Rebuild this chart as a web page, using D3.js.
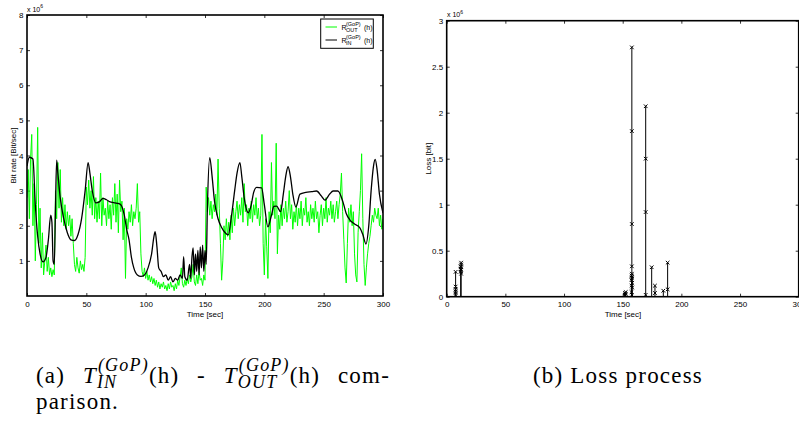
<!DOCTYPE html>
<html><head><meta charset="utf-8">
<script src="https://cdn.jsdelivr.net/npm/d3@7"></script>
<style>body{margin:0;background:#fff}svg{display:block}</style>
</head><body><svg id="c" width="799" height="421" font-family="Liberation Sans, Arial, sans-serif"></svg>
<script>
// ---- data (values in units of 1e6) ----
const xTicks = [0, 50, 100, 150, 200, 250, 300];
const rateTicks = [1, 2, 3, 4, 5, 6, 7, 8];
const lossTicks = [0, 0.5, 1, 1.5, 2, 2.5, 3];
const outRate = [
 2.8,3.6,2.2,3.9,4.6,2.0,3.2,1.0,2.6,4.8,
 1.5,2.5,0.8,1.8,0.6,1.0,1.45,0.7,1.1,0.6,
 0.8,0.55,0.75,0.6,3.0,2.2,3.8,2.5,3.6,2.1,
 2.8,2.0,2.6,1.9,2.4,2.0,2.3,1.7,2.2,1.5,
 0.9,0.7,1.1,0.8,0.65,1.0,0.75,0.9,0.7,1.1,
 3.1,2.6,3.3,2.5,3.0,2.3,3.4,2.2,2.8,2.1,
 2.7,2.2,3.5,2.0,2.8,2.3,2.5,2.0,2.7,2.2,
 2.6,1.9,2.8,2.3,3.2,2.1,2.9,1.8,3.3,2.4,
 2.7,1.6,2.5,0.5,2.2,1.9,2.4,2.1,2.6,2.0,
 2.4,2.2,2.5,3.2,2.1,2.4,1.2,0.7,0.55,0.8,
 0.5,0.7,0.45,0.6,0.4,0.55,0.35,0.5,0.3,0.45,
 0.25,0.4,0.2,0.35,0.25,0.4,0.2,0.3,0.15,0.35,
 0.2,0.4,0.25,0.3,0.15,0.35,0.2,0.45,0.3,0.55,
 0.8,0.35,0.25,0.45,0.3,0.5,0.35,0.6,0.4,0.55,
 0.9,0.4,0.3,0.6,0.35,0.7,0.45,0.5,0.3,0.6,
 0.45,
 3.1,2.4,2.8,2.3,2.7,2.2,2.6,2.4,2.9,2.3,
 3.9,2.5,1.5,0.45,1.0,2.0,1.6,2.2,1.7,2.1,
 1.6,2.3,1.8,2.5,2.0,2.4,2.7,2.2,2.6,2.3,
 2.8,2.1,3.2,2.4,2.6,2.0,2.5,2.2,2.7,2.1,
 2.6,2.3,2.8,2.2,2.5,2.0,2.3,4.6,1.5,0.6,
 2.2,1.4,0.5,2.4,1.8,3.8,2.3,2.7,2.2,4.35,
 1.2,2.3,1.9,2.6,2.0,2.5,2.2,2.7,2.1,2.4,
 3.0,2.2,2.6,1.9,2.4,2.1,2.6,2.0,2.5,2.2,
 2.7,2.0,2.5,2.3,2.8,2.1,2.4,2.0,2.6,2.2,
 2.5,2.1,2.7,2.2,2.4,1.8,2.3,2.6,2.0,2.5,
 2.2,2.8,2.1,2.5,2.3,2.7,2.2,2.6,2.1,2.4,
 2.7,2.2,2.6,2.9,3.5,2.4,1.6,0.8,0.37,1.5,
 2.5,2.1,2.6,2.0,2.4,1.2,0.6,0.4,1.8,2.4,
 3.0,4.05,2.2,0.9,0.3,0.8,1.2,1.5,1.7,2.0,
 2.3,2.1,2.5,2.3,2.2,2.5,2.0,2.3,1.9,2.2];
const inTime = [0,2,5,7,9,11,13.5,16,18,20,21,22,23,24,25,26,28,31,34,37,40,43,46,49,51.5,53,55,58,61,64,67,70,73,76,79,82,84,86,88,90,93,96,99,102,105,107,108,109.5,111,113,115,117,119,121,123,125,127,129,131,132,133,135,137,138,139,140,141,142,143,144,145,146,147,148,149,150,151,152,154,156,158,161,164,167,169.6,172,175,177,179.4,181,183,186.5,189,191,193.5,197.7,200,203,206,208,210.3,213.7,216,218,220,222,224,226.6,230,235,240,244,248,251,255,258,262,266.5,269,272,276,280.5,283,285.6,288,290,292,293.4,295,297,300];
const inRate = [3.7,3.95,3.9,2.6,1.7,1.2,0.97,1.1,1.6,2.3,2.1,1.0,0.9,2.5,3.87,3.5,2.8,2.2,1.8,1.6,1.58,1.75,2.2,3.0,3.8,3.5,3.0,2.65,2.68,2.78,2.74,2.68,2.66,2.64,2.6,2.3,1.9,1.6,1.1,0.8,0.6,0.56,0.6,0.8,1.2,1.7,1.83,1.4,0.8,0.7,0.55,0.6,0.45,0.55,0.4,0.5,0.45,0.6,0.5,1.12,0.55,0.45,0.9,0.5,1.1,1.37,0.6,1.2,0.7,1.3,0.6,1.4,0.8,1.45,0.7,1.3,0.9,2.5,3.94,3.4,2.7,2.2,1.95,1.8,1.74,2.2,3.0,3.5,3.8,3.4,2.8,2.37,2.6,2.95,3.09,3.08,2.6,1.97,2.3,2.55,2.56,2.4,2.9,3.4,3.68,3.4,2.9,2.53,2.9,2.95,2.97,2.99,2.85,2.73,2.9,2.99,2.99,2.65,2.35,2.17,2.05,1.94,1.75,1.48,2.0,3.0,3.7,3.89,3.6,2.9,2.36];
const lossTime = [7.6, 11.9, 12.3, 151.8, 152.6, 157.5, 157.8, 158.1, 169.6, 174.7, 177.5, 184.6, 188.3];
const lossValues = [
 [0.02,0.04,0.06,0.08,0.11,0.27],
 [0.27,0.30,0.33],
 [0.25,0.29,0.32,0.35,0.37],
 [0.02,0.04],
 [0.03,0.05],
 [0.05,0.12,0.18,0.23],
 [0.02,0.2,0.25,0.33,0.79,1.80,2.71],
 [0.1,0.15,0.22],
 [0.02,0.92,1.50,2.07],
 [0.32],
 [0.04,0.12],
 [0.065],
 [0.08,0.37]];

const svg = d3.select("#c");
svg.append("rect").attr("width",799).attr("height",421).attr("fill","#fff");

function frame(x, y, yt, yFmt){
  const [x0,x1] = x.range(), [y0,y1] = y.range();
  const g = svg.append("g");
  const b = g.append("g").attr("transform",`translate(0,${y0})`)
    .call(d3.axisBottom(x).tickValues(xTicks).tickSizeInner(-3).tickSizeOuter(0).tickPadding(5));
  const t = g.append("g").attr("transform",`translate(0,${y1})`)
    .call(d3.axisTop(x).tickValues(xTicks).tickSizeInner(-3).tickSizeOuter(0).tickFormat(""));
  const l = g.append("g").attr("transform",`translate(${x0},0)`)
    .call(d3.axisLeft(y).tickValues(yt).tickSizeInner(-3).tickSizeOuter(0).tickPadding(3.5).tickFormat(yFmt));
  const r = g.append("g").attr("transform",`translate(${x1},0)`)
    .call(d3.axisRight(y).tickValues(yt).tickSizeInner(-3).tickSizeOuter(0).tickFormat(""));
  [b,t,l,r].forEach(a=>{a.select(".domain").remove();
     a.selectAll("line").attr("stroke","#000").attr("stroke-width",0.8);
     a.selectAll("text").attr("font-size","8px").attr("fill","#000").attr("font-family","Liberation Sans, Arial, sans-serif");});
  return g;
}
function box(x,y){
  const [x0,x1] = x.range(), [y0,y1] = y.range();
  svg.append("rect").attr("x",x0).attr("y",y1).attr("width",x1-x0).attr("height",y0-y1)
    .attr("fill","none").attr("stroke","#000").attr("stroke-width",1.6);
}
function exp6(x,y){
  const t = svg.append("text").attr("x",x).attr("y",y).attr("font-size","7px").attr("fill","#000");
  t.append("tspan").text("x 10");
  t.append("tspan").attr("dy",-3.5).attr("font-size","5px").text("6");
}

// ---- left chart ----
const xL = d3.scaleLinear([0,300],[27,383]);
const yL = d3.scaleLinear([0,8],[296,15]);
frame(xL,yL,rateTicks,d3.format("d"));
svg.append("clipPath").attr("id","clipL").append("rect")
  .attr("x",27).attr("y",15).attr("width",356).attr("height",281);
const pl = svg.append("g").attr("clip-path","url(#clipL)");
pl.append("path").datum(outRate)
  .attr("d", d3.line().x((d,i)=>xL(i)).y(d=>yL(d)))
  .attr("fill","none").attr("stroke","#00ff00").attr("stroke-width",1);
pl.append("path").datum(inTime.map((t,i)=>[t,inRate[i]]))
  .attr("d", d3.line().x(d=>xL(d[0])).y(d=>yL(d[1])).curve(d3.curveMonotoneX))
  .attr("fill","none").attr("stroke","#000").attr("stroke-width",1.3);
box(xL,yL);
exp6(27,11.5);
svg.append("text").attr("transform","translate(15.5,155.5) rotate(-90)")
  .attr("text-anchor","middle").attr("font-size","8px").text("Bit rate [Bit/sec]");
svg.append("text").attr("x",205).attr("y",316.5).attr("text-anchor","middle").attr("font-size","8px").text("Time [sec]");

// legend
const lg = svg.append("g");
lg.append("rect").attr("x",320.7).attr("y",19).attr("width",52.6).attr("height",29.3)
  .attr("fill","#fff").attr("stroke","#000").attr("stroke-width",1);
const legItems = [{c:"#00ff00", sub:"OUT", y:27},{c:"#000", sub:"IN", y:40}];
legItems.forEach(it=>{
  lg.append("line").attr("x1",325.5).attr("x2",337).attr("y1",it.y).attr("y2",it.y).attr("stroke",it.c).attr("stroke-width",1);
  const t = lg.append("text").attr("font-size","7px");
  t.append("tspan").attr("x",341.5).attr("y",it.y+2.5).text("R");
  t.append("tspan").attr("x",346).attr("y",it.y-0.8).attr("font-size","5.5px").text("(GoP)");
  t.append("tspan").attr("x",346).attr("y",it.y+4.5).attr("font-size","5.5px").text(it.sub);
  t.append("tspan").attr("x",364).attr("y",it.y+2.5).text("(h)");
});

// ---- right chart ----
const xR = d3.scaleLinear([0,300],[446.7,798.7]);
const yR = d3.scaleLinear([0,3],[296.7,20.7]);
frame(xR,yR,lossTicks,d => String(d));
const pr = svg.append("g");
lossTime.forEach((t,i)=>{
  const vals = lossValues[i];
  pr.append("line").attr("x1",xR(t)).attr("x2",xR(t)).attr("y1",yR(0)).attr("y2",yR(d3.max(vals)))
    .attr("stroke","#000").attr("stroke-width",1);
  vals.forEach(v=>{
    const cx = xR(t), cy = yR(v), s = 1.8;
    pr.append("path").attr("d",`M${cx-s},${cy-s}L${cx+s},${cy+s}M${cx-s},${cy+s}L${cx+s},${cy-s}`)
      .attr("stroke","#000").attr("stroke-width",1);
  });
});
box(xR,yR);
exp6(447,17);
svg.append("text").attr("transform","translate(430.5,158.7) rotate(-90)")
  .attr("text-anchor","middle").attr("font-size","8px").text("Loss [bit]");
svg.append("text").attr("x",623).attr("y",317).attr("text-anchor","middle").attr("font-size","8px").text("Time [sec]");

// ---- captions ----
const SERIF = "'Liberation Serif', 'DejaVu Serif', serif";
const LS = "1.2px";
const line1 = svg.append("text").attr("y",383).style("font-family",SERIF).style("font-size","23px").style("letter-spacing",LS).attr("fill","#000");
const pieces = [{t:"(a)"},{gap:1},{t:"T",it:1},{sup:"(GoP)",sub:"IN"},{t:"(h)"},{gap:1},{t:"-"},{gap:1},
  {t:"T",it:1},{sup:"(GoP)",sub:"OUT"},{t:"(h)"},{gap:1},{t:"com-"}];
const meas = [];
pieces.forEach(p=>{
  if (p.gap) { meas.push({p, w:0}); return; }
  if (p.sup){
    const a = line1.append("tspan").style("font-size","18px").style("font-style","italic").text(p.sup);
    const b = line1.append("tspan").style("font-size","18px").style("font-style","italic").text(p.sub);
    meas.push({p, a, b, w:Math.max(a.node().getComputedTextLength(), b.node().getComputedTextLength())+1});
  } else {
    const a = line1.append("tspan").style("font-style",p.it?"italic":"normal").text(p.t);
    meas.push({p, a, w:a.node().getComputedTextLength()});
  }
});
const startX = 36, endX = 390;
const natural = d3.sum(meas, m=>m.w);
const ngap = meas.filter(m=>m.p.gap).length;
const gapW = Math.max(6, (endX - startX - natural)/ngap);
let cx = startX;
meas.forEach(m=>{
  if (m.p.gap) { cx += gapW; return; }
  if (m.p.sup){
    m.a.attr("x",cx+1).attr("y",371);
    m.b.attr("x",cx).attr("y",388);
  } else {
    m.a.attr("x",cx).attr("y",383);
  }
  cx += m.w;
});
svg.append("text").attr("x",36).attr("y",409).style("font-family",SERIF).style("font-size","23px").style("letter-spacing",LS).text("parison.");
svg.append("text").attr("x",533).attr("y",383).style("font-family",SERIF).style("font-size","23px").style("letter-spacing",LS).text("(b) Loss process");
</script></body></html>
